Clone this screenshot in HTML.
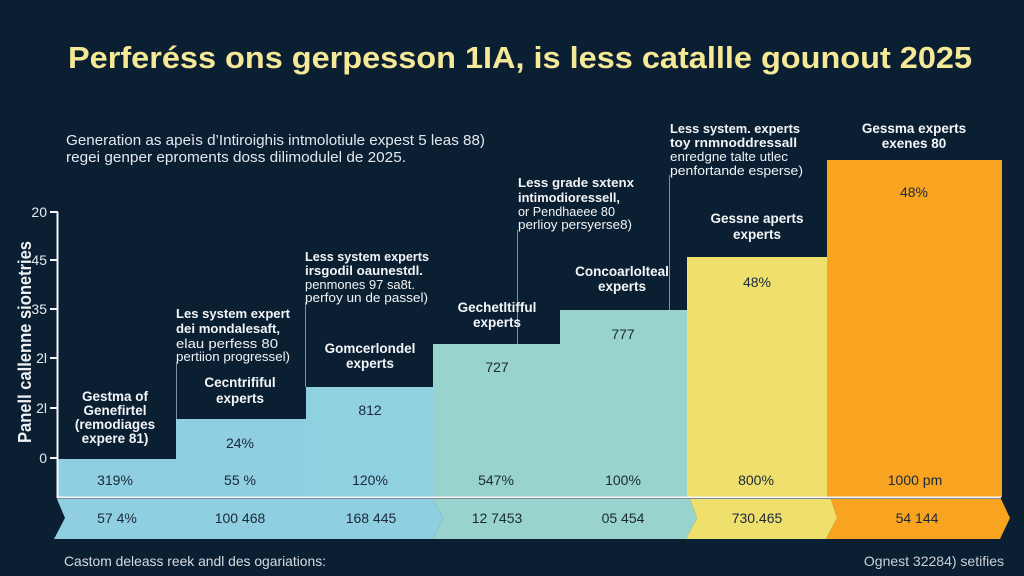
<!DOCTYPE html>
<html><head><meta charset="utf-8"><style>
html,body{margin:0;padding:0;background:#0b1f33;}
svg{display:block;}
text{font-family:"Liberation Sans",sans-serif;}
</style></head><body>
<svg width="1024" height="576" viewBox="0 0 1024 576" xmlns="http://www.w3.org/2000/svg">
<rect x="0" y="0" width="1024" height="576" fill="#0b1f33"/>
<!-- Title -->
<text x="68" y="68" font-size="31" font-weight="bold" fill="#f5e896" textLength="904" lengthAdjust="spacingAndGlyphs">Perferéss ons gerpesson 1IA, is less catallle gounout 2025</text>
<!-- Subtitle -->
<text x="66" y="145" font-size="15" fill="#e4e8ee" textLength="419" lengthAdjust="spacingAndGlyphs">Generation as apeìs d’Intiroighis intmolotiule expest 5 leas 88)</text>
<text x="66" y="162" font-size="15" fill="#e4e8ee" textLength="340" lengthAdjust="spacingAndGlyphs">regei genper eproments doss dilimodulel de 2025.</text>

<!-- Bars -->
<rect x="58" y="459" width="118" height="38" fill="#8fcfe1"/>
<rect x="176" y="419" width="130" height="78" fill="#8fcfe1"/>
<rect x="306" y="387" width="127" height="110" fill="#8fd0e1"/>
<rect x="433" y="344" width="127" height="153" fill="#98d4cd"/>
<rect x="560" y="310" width="127" height="187" fill="#98d4cd"/>
<rect x="687" y="257" width="140" height="240" fill="#efdf6d"/>
<rect x="827" y="160" width="175" height="337" fill="#f8a421"/>

<!-- Row 2 arrows -->
<polygon points="433,499 443,518 433,539 54,539 65,518 57,499" fill="#8fcfe1"/>
<polygon points="690,499 697,518 686,539 433,539 443,518 433,499" fill="#98d4cd"/>
<polygon points="831,499 837,518 826,539 686,539 697,518 690,499" fill="#efdf6d"/>
<polygon points="1001,499 1010,518 1000,539 826,539 837,518 831,499" fill="#f8a421"/>

<!-- white separator & axis -->
<line x1="57" y1="497.5" x2="1001" y2="497.5" stroke="#f4f6f8" stroke-width="2"/>
<line x1="57.5" y1="212" x2="57.5" y2="498" stroke="#f4f6f8" stroke-width="2"/>
<g stroke="#f4f6f8" stroke-width="2">
<line x1="50" y1="212" x2="58" y2="212"/>
<line x1="50" y1="260" x2="58" y2="260"/>
<line x1="50" y1="309" x2="58" y2="309"/>
<line x1="50" y1="358" x2="58" y2="358"/>
<line x1="50" y1="408" x2="58" y2="408"/>
<line x1="50" y1="458" x2="58" y2="458"/>
</g>
<g font-size="14" fill="#e8ecf0" text-anchor="end">
<text x="47" y="217">20</text>
<text x="47" y="265">45</text>
<text x="47" y="314">35</text>
<text x="47" y="363">2l</text>
<text x="47" y="413">2l</text>
<text x="47" y="463">0</text>
</g>
<text transform="translate(31,342) rotate(-90)" text-anchor="middle" font-size="18" font-weight="bold" fill="#eef1f4" textLength="202" lengthAdjust="spacingAndGlyphs">Panell callenne sionetries</text>

<!-- annotation lines -->
<g stroke="#7f8fa0" stroke-width="1">
<line x1="176.5" y1="362" x2="176.5" y2="419"/>
<line x1="305.5" y1="302" x2="305.5" y2="387"/>
<line x1="517.5" y1="230" x2="517.5" y2="344"/>
<line x1="669.5" y1="175" x2="669.5" y2="310"/>
</g>

<!-- annotations -->
<g font-size="13" fill="#f2f4f6">
<text x="176" y="318" font-weight="bold" textLength="114" lengthAdjust="spacingAndGlyphs">Les system expert</text>
<text x="176" y="333" font-weight="bold" textLength="104" lengthAdjust="spacingAndGlyphs">dei mondalesaft,</text>
<text x="176" y="348" textLength="102" lengthAdjust="spacingAndGlyphs">elau perfess 80</text>
<text x="176" y="361" textLength="114" lengthAdjust="spacingAndGlyphs">pertiion progressel)</text>

<text x="305" y="261" font-weight="bold" textLength="124" lengthAdjust="spacingAndGlyphs">Less system experts</text>
<text x="305" y="275" font-weight="bold" textLength="118" lengthAdjust="spacingAndGlyphs">irsgodil oaunestdl.</text>
<text x="305" y="289" textLength="110" lengthAdjust="spacingAndGlyphs">penmones 97 sa8t.</text>
<text x="305" y="302" textLength="123" lengthAdjust="spacingAndGlyphs">perfoy un de passel)</text>

<text x="518" y="187" font-weight="bold" textLength="116" lengthAdjust="spacingAndGlyphs">Less grade sxtenx</text>
<text x="518" y="202" font-weight="bold" textLength="102" lengthAdjust="spacingAndGlyphs">intimodioressell,</text>
<text x="518" y="216" textLength="97" lengthAdjust="spacingAndGlyphs">or Pendhaeee 80</text>
<text x="518" y="229" textLength="114" lengthAdjust="spacingAndGlyphs">perlioy persyerse8)</text>

<text x="670" y="133" font-weight="bold" textLength="130" lengthAdjust="spacingAndGlyphs">Less system. experts</text>
<text x="670" y="147" font-weight="bold" textLength="127" lengthAdjust="spacingAndGlyphs">toy rnmnoddressall</text>
<text x="670" y="161" textLength="118" lengthAdjust="spacingAndGlyphs">enredgne talte utlec</text>
<text x="670" y="175" textLength="133" lengthAdjust="spacingAndGlyphs">penfortande esperse)</text>
</g>

<!-- headers -->
<g font-size="13.5" font-weight="bold" fill="#f4f6f8" text-anchor="middle">
<text x="115" y="401">Gestma of</text>
<text x="115" y="415">Genefirtel</text>
<text x="115" y="429">(remodiages</text>
<text x="115" y="443">expere 81)</text>
<text x="240" y="387">Cecntrififul</text>
<text x="240" y="403">experts</text>
<text x="370" y="353">Gomcerlondel</text>
<text x="370" y="368">experts</text>
<text x="497" y="312">Gechetltifful</text>
<text x="497" y="327">experts</text>
<text x="622" y="276">Concoarlolteal</text>
<text x="622" y="291">experts</text>
<text x="757" y="223">Gessne aperts</text>
<text x="757" y="239">experts</text>
<text x="914" y="133">Gessma experts</text>
<text x="914" y="148">exenes 80</text>
</g>

<!-- values -->
<g font-size="14" fill="#1b2838" text-anchor="middle">
<text x="240" y="448">24%</text>
<text x="370" y="415">812</text>
<text x="497" y="372">727</text>
<text x="623" y="339">777</text>
<text x="757" y="287">48%</text>
<text x="914" y="197">48%</text>

<text x="115" y="485">319%</text>
<text x="240" y="485">55 %</text>
<text x="370" y="485">120%</text>
<text x="496" y="485">547%</text>
<text x="623" y="485">100%</text>
<text x="756" y="485">800%</text>
<text x="915" y="485">1000 pm</text>

<text x="117" y="523">57 4%</text>
<text x="240" y="523">100 468</text>
<text x="371" y="523">168 445</text>
<text x="497" y="523">12 7453</text>
<text x="623" y="523">05 454</text>
<text x="757" y="523">730.465</text>
<text x="917" y="523">54 144</text>
</g>

<!-- footer -->
<text x="64" y="566" font-size="14" fill="#d6dbe1" textLength="262" lengthAdjust="spacingAndGlyphs">Castom deleass reek andl des ogariations:</text>
<text x="1004" y="566" font-size="14" fill="#c9d0d8" text-anchor="end">Ognest 32284) setifies</text>
</svg>
</body></html>
